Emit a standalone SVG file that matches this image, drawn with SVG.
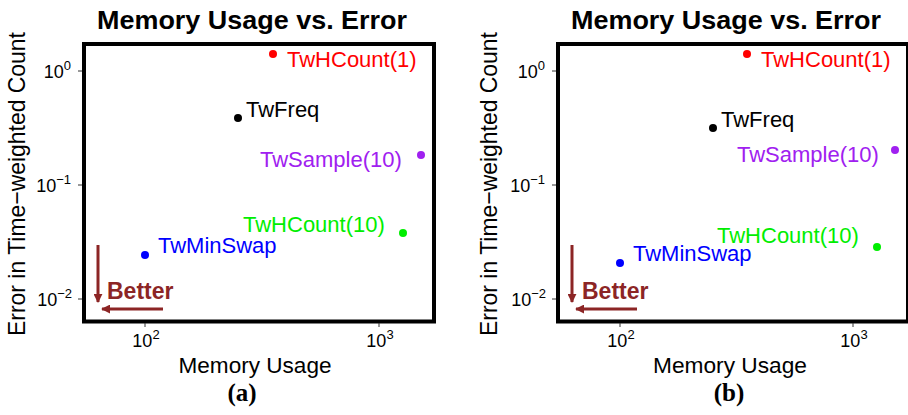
<svg xmlns="http://www.w3.org/2000/svg" width="908" height="415" viewBox="0 0 908 415">
  <style>
    .title { font-family: "Liberation Sans", Arial, sans-serif; font-weight: bold; font-size: 26px; fill: #000; text-anchor: middle; }
    .axis { font-family: "Liberation Sans", Arial, sans-serif; font-size: 22px; fill: #000; text-anchor: middle; }
    .ylab { font-family: "Liberation Sans", Arial, sans-serif; font-size: 24px; fill: #000; text-anchor: middle; }
    .tick { font-family: "Liberation Sans", Arial, sans-serif; font-size: 18px; fill: #000; }
    .sup { font-size: 13px; }
    .lbl { font-family: "Liberation Sans", Arial, sans-serif; font-size: 22px; }
    .better { font-family: "Liberation Sans", Arial, sans-serif; font-weight: bold; font-size: 23px; fill: #8c2525; }
    .cap { font-family: "Liberation Serif", "Times New Roman", serif; font-weight: bold; font-size: 25px; fill: #000; text-anchor: middle; }
    .frame { fill: #fff; stroke: #000; stroke-width: 4; }
    .tk { stroke: #333; stroke-width: 1; }
    .arr { stroke: #8c2525; stroke-width: 3; fill: none; }
  </style>
  <defs>
    <marker id="head" viewBox="0 0 10 10" refX="9" refY="5" markerWidth="9" markerHeight="9" markerUnits="userSpaceOnUse" orient="auto">
      <path d="M0,0 L10,5 L0,10 z" fill="#8c2525"/>
    </marker>
  </defs>

  <rect width="908" height="415" fill="#fff"/>

  <!-- panel (a) -->
  <g id="panel-a">
    <text class="title" x="252" y="29" textLength="310" lengthAdjust="spacingAndGlyphs">Memory Usage vs. Error</text>
    <rect class="frame" x="84" y="44" width="350" height="277.5"/>
    <!-- y ticks -->
    <line class="tk" x1="78" y1="71" x2="82" y2="71"/>
    <line class="tk" x1="78" y1="185" x2="82" y2="185"/>
    <line class="tk" x1="78" y1="299" x2="82" y2="299"/>
    <text class="tick" x="71" y="78" text-anchor="end">10<tspan class="sup" dy="-8">0</tspan></text>
    <text class="tick" x="71" y="192" text-anchor="end">10<tspan class="sup" dy="-8">−1</tspan></text>
    <text class="tick" x="72" y="306" text-anchor="end">10<tspan class="sup" dy="-8">−2</tspan></text>
    <!-- x ticks -->
    <line class="tk" x1="145" y1="323" x2="145" y2="327"/>
    <line class="tk" x1="379" y1="323" x2="379" y2="327"/>
    <text class="tick" x="146" y="347" text-anchor="middle">10<tspan class="sup" dy="-8">2</tspan></text>
    <text class="tick" x="380" y="347" text-anchor="middle">10<tspan class="sup" dy="-8">3</tspan></text>
    <text class="axis" x="255" y="373" textLength="153" lengthAdjust="spacingAndGlyphs">Memory Usage</text>
    <text class="ylab" transform="translate(25,184) rotate(-90)" textLength="304" lengthAdjust="spacingAndGlyphs">Error in Time−weighted Count</text>
    <text class="cap" x="242" y="401">(a)</text>
  </g>
  <g id="a-twhcount1"><circle cx="273" cy="54" r="4" fill="#ff0000"/><text class="lbl" x="287" y="67" fill="#ff0000">TwHCount(1)</text></g>
  <g id="a-twfreq"><circle cx="238" cy="118" r="4" fill="#000"/><text class="lbl" x="246" y="117" fill="#000">TwFreq</text></g>
  <g id="a-twsample10"><circle cx="421" cy="155" r="4" fill="#a020f0"/><text class="lbl" x="260" y="167" fill="#a020f0">TwSample(10)</text></g>
  <g id="a-twhcount10"><circle cx="403" cy="233" r="4" fill="#00ee00"/><text class="lbl" x="243" y="232" fill="#00ee00">TwHCount(10)</text></g>
  <g id="a-twminswap"><circle cx="145" cy="255" r="4" fill="#0000ff"/><text class="lbl" x="158" y="253" fill="#0000ff">TwMinSwap</text></g>
  <g id="a-better"><text class="better" x="107" y="299">Better</text></g>

  <!-- panel (b) -->
  <g id="panel-b">
    <text class="title" x="726" y="29" textLength="310" lengthAdjust="spacingAndGlyphs">Memory Usage vs. Error</text>
    <rect class="frame" x="558" y="44" width="350" height="277.5"/>
    <line class="tk" x1="552" y1="71" x2="556" y2="71"/>
    <line class="tk" x1="552" y1="185" x2="556" y2="185"/>
    <line class="tk" x1="552" y1="299" x2="556" y2="299"/>
    <text class="tick" x="545" y="78" text-anchor="end">10<tspan class="sup" dy="-8">0</tspan></text>
    <text class="tick" x="545" y="192" text-anchor="end">10<tspan class="sup" dy="-8">−1</tspan></text>
    <text class="tick" x="546" y="306" text-anchor="end">10<tspan class="sup" dy="-8">−2</tspan></text>
    <line class="tk" x1="620" y1="323" x2="620" y2="327"/>
    <line class="tk" x1="853" y1="323" x2="853" y2="327"/>
    <text class="tick" x="621" y="347" text-anchor="middle">10<tspan class="sup" dy="-8">2</tspan></text>
    <text class="tick" x="854" y="347" text-anchor="middle">10<tspan class="sup" dy="-8">3</tspan></text>
    <text class="axis" x="730" y="373" textLength="154" lengthAdjust="spacingAndGlyphs">Memory Usage</text>
    <text class="ylab" transform="translate(497,184) rotate(-90)" textLength="304" lengthAdjust="spacingAndGlyphs">Error in Time−weighted Count</text>
    <text class="cap" x="729" y="401">(b)</text>
  </g>
  <g id="b-twhcount1"><circle cx="747" cy="54" r="4" fill="#ff0000"/><text class="lbl" x="761" y="67" fill="#ff0000">TwHCount(1)</text></g>
  <g id="b-twfreq"><circle cx="713" cy="128" r="4" fill="#000"/><text class="lbl" x="721" y="127" fill="#000">TwFreq</text></g>
  <g id="b-twsample10"><circle cx="895" cy="150" r="4" fill="#a020f0"/><text class="lbl" x="737" y="162" fill="#a020f0">TwSample(10)</text></g>
  <g id="b-twhcount10"><circle cx="877" cy="247" r="4" fill="#00ee00"/><text class="lbl" x="717" y="243" fill="#00ee00">TwHCount(10)</text></g>
  <g id="b-twminswap"><circle cx="620" cy="263" r="4" fill="#0000ff"/><text class="lbl" x="633" y="261" fill="#0000ff">TwMinSwap</text></g>
  <g id="b-better"><text class="better" x="582" y="299">Better</text></g>

  <!-- direction arrows -->
  <g id="connectors">
    <line class="arr" x1="98" y1="245" x2="98" y2="302" marker-end="url(#head)"/>
    <line class="arr" x1="163" y1="309" x2="102" y2="309" marker-end="url(#head)"/>
    <line class="arr" x1="572" y1="245" x2="572" y2="302" marker-end="url(#head)"/>
    <line class="arr" x1="637" y1="309" x2="576" y2="309" marker-end="url(#head)"/>
  </g>
</svg>
